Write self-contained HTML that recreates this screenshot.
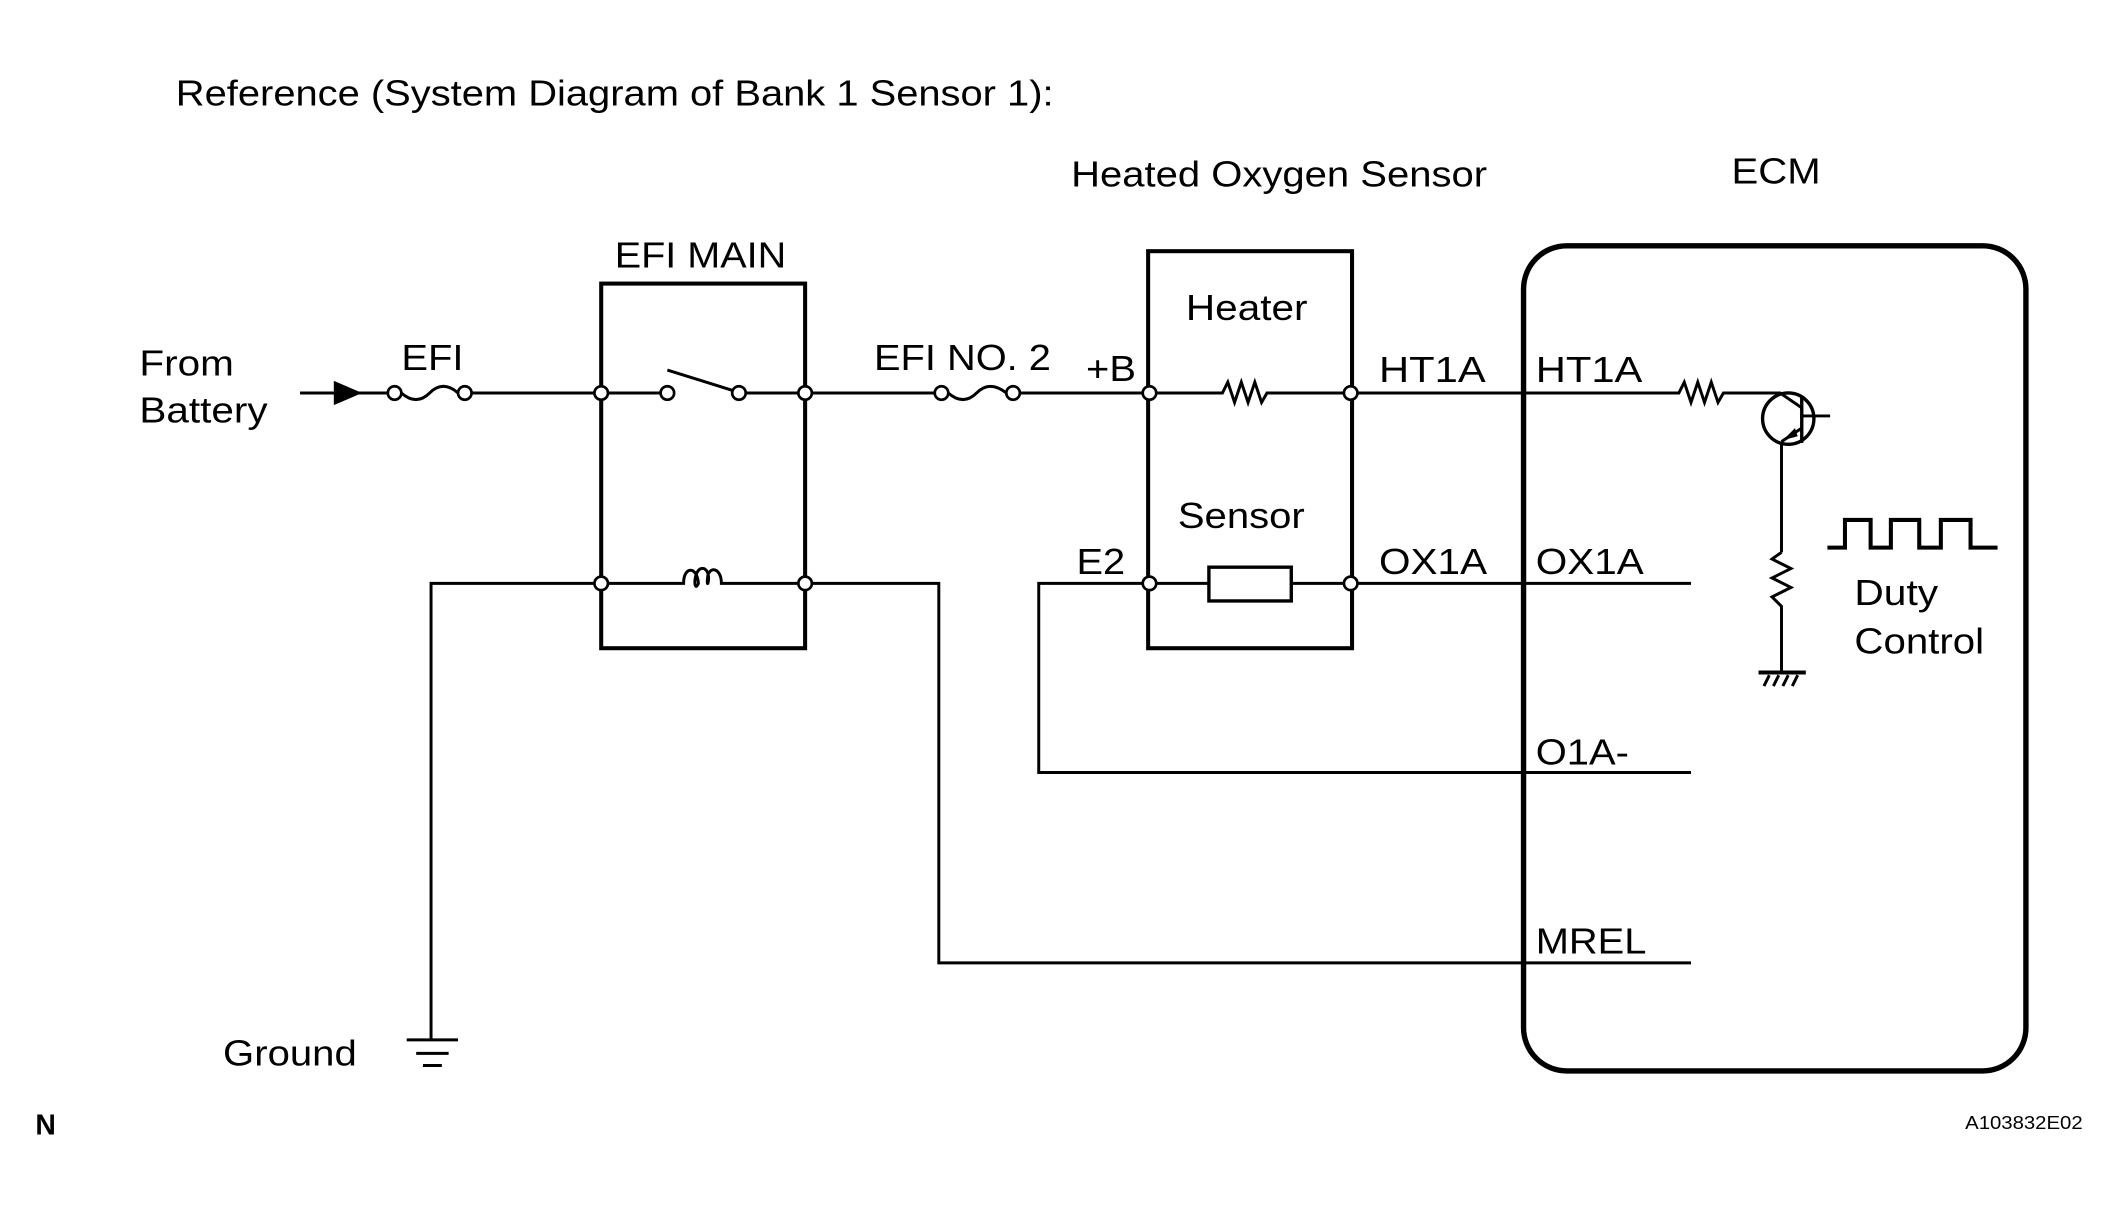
<!DOCTYPE html>
<html><head><meta charset="utf-8"><style>
html,body{margin:0;padding:0;background:#fff;}
svg{display:block;}
text{font-family:"Liberation Sans",Arial,sans-serif;font-size:27px;fill:#000;}
</style></head><body>
<svg width="2118" height="1210" viewBox="0 0 1568 896" xmlns="http://www.w3.org/2000/svg">
<g fill="none" stroke="#000" stroke-width="2.2">
<line x1="222" y1="291" x2="287" y2="291"/>
<path d="M297,291 C305,298 312,297 318,291 C324,285 331,284 339,291"/>
<line x1="349" y1="291" x2="440" y2="291"/>
<line x1="450" y1="291" x2="489" y2="291"/>
<line x1="494" y1="274" x2="542" y2="289"/>
<line x1="552" y1="291" x2="591" y2="291"/>
<line x1="601" y1="291" x2="692" y2="291"/>
<path d="M702,291 C710,298 717,297 723,291 C729,285 736,284 745,291"/>
<line x1="755" y1="291" x2="846" y2="291"/>
<path d="M856,291 L905,291 L909,283 L914,298 L919,283 L924,298 L929,283 L934,298 L938,291 L995,291"/>
<path d="M1005,291 L1243,291 L1247,283 L1252,298 L1257,283 L1262,298 L1267,283 L1272,298 L1276,291 L1318,291 L1334,302"/>
<circle cx="1324" cy="310" r="19" stroke-width="2.5"/>
<line x1="1334" y1="294" x2="1334" y2="328" stroke-width="2.5"/>
<line x1="1334" y1="308" x2="1355" y2="308"/>
<line x1="1334" y1="317" x2="1319" y2="327"/>
<line x1="1319" y1="327" x2="1319" y2="409"/>
<path d="M1319,409 L1312,414 L1326,421 L1312,428 L1326,435 L1312,442 L1319,449 L1319,498"/>
<line x1="1302" y1="498" x2="1337" y2="498" stroke-width="3"/>
<line x1="1306" y1="508" x2="1310" y2="500"/>
<line x1="1313" y1="508" x2="1317" y2="500"/>
<line x1="1320" y1="508" x2="1324" y2="500"/>
<line x1="1327" y1="508" x2="1331" y2="500"/>
<path d="M1353,405.5 L1366,405.5 L1366,385 L1385,385 L1385,405.5 L1400,405.5 L1400,385 L1421,385 L1421,405.5 L1437,405.5 L1437,385 L1459,385 L1459,405.5 L1479,405.5" stroke-width="3"/>
<polyline points="319,770 319,432 440,432"/>
<path d="M450,432 L506,432 C506,419 516,419 517,432 C513,441 513,419 521,421 C528,424 522,441 524,426 C526,419 534,421 534,432 L591,432"/>
<polyline points="601,432 695,432 695,713 1252,713"/>
<polyline points="846,432 769,432 769,572 1252,572"/>
<line x1="856" y1="432" x2="895" y2="432"/>
<line x1="956" y1="432" x2="995" y2="432"/>
<line x1="1005" y1="432" x2="1252" y2="432"/>
<rect x="895" y="420" width="61" height="25" stroke-width="2.5"/>
<rect x="445" y="210" width="151" height="270" stroke-width="3"/>
<rect x="850" y="186" width="151" height="294" stroke-width="3"/>
<rect x="1128" y="182" width="372" height="611" rx="32" stroke-width="4"/>
<line x1="301" y1="770" x2="339" y2="770"/>
<line x1="308" y1="780" x2="332" y2="780"/>
<line x1="313" y1="789" x2="327" y2="789"/>
</g>
<polygon points="247,282 247,300 268,291" fill="#000"/>
<g fill="#fff" stroke="#000" stroke-width="2">
<circle cx="292" cy="291" r="5"/><circle cx="344" cy="291" r="5"/>
<circle cx="445" cy="291" r="5"/><circle cx="494" cy="291" r="5"/>
<circle cx="547" cy="291" r="5"/><circle cx="596" cy="291" r="5"/>
<circle cx="697" cy="291" r="5"/><circle cx="750" cy="291" r="5"/>
<circle cx="851" cy="291" r="5"/><circle cx="1000" cy="291" r="5"/>
<circle cx="445" cy="432" r="5"/><circle cx="596" cy="432" r="5"/>
<circle cx="851" cy="432" r="5"/><circle cx="1000" cy="432" r="5"/>
</g>
<polygon points="1320,326 1329,317 1331,323" fill="#000"/>
<text x="130" y="78" textLength="650" lengthAdjust="spacingAndGlyphs">Reference (System Diagram of Bank 1 Sensor 1):</text>
<text x="793" y="138" textLength="308" lengthAdjust="spacingAndGlyphs">Heated Oxygen Sensor</text>
<text x="1282" y="136" textLength="66" lengthAdjust="spacingAndGlyphs">ECM</text>
<text x="455" y="198" textLength="127" lengthAdjust="spacingAndGlyphs">EFI MAIN</text>
<text x="103" y="278" textLength="70" lengthAdjust="spacingAndGlyphs">From</text>
<text x="103" y="313" textLength="95" lengthAdjust="spacingAndGlyphs">Battery</text>
<text x="297" y="274" textLength="46" lengthAdjust="spacingAndGlyphs">EFI</text>
<text x="647" y="274" textLength="131" lengthAdjust="spacingAndGlyphs">EFI NO. 2</text>
<text x="804" y="282" textLength="37" lengthAdjust="spacingAndGlyphs">+B</text>
<text x="878" y="237" textLength="90" lengthAdjust="spacingAndGlyphs">Heater</text>
<text x="872" y="391" textLength="94" lengthAdjust="spacingAndGlyphs">Sensor</text>
<text x="797" y="425" textLength="36" lengthAdjust="spacingAndGlyphs">E2</text>
<text x="1021" y="283" textLength="79" lengthAdjust="spacingAndGlyphs">HT1A</text>
<text x="1021" y="425" textLength="80" lengthAdjust="spacingAndGlyphs">OX1A</text>
<text x="1137" y="283" textLength="79" lengthAdjust="spacingAndGlyphs">HT1A</text>
<text x="1137" y="425" textLength="80" lengthAdjust="spacingAndGlyphs">OX1A</text>
<text x="1137" y="566" textLength="69" lengthAdjust="spacingAndGlyphs">O1A-</text>
<text x="1137" y="706" textLength="82" lengthAdjust="spacingAndGlyphs">MREL</text>
<text x="1373" y="448" textLength="62" lengthAdjust="spacingAndGlyphs">Duty</text>
<text x="1373" y="484" textLength="96" lengthAdjust="spacingAndGlyphs">Control</text>
<text x="165" y="789" textLength="99" lengthAdjust="spacingAndGlyphs">Ground</text>
<text x="26" y="840" style="font-size:21px;font-weight:bold">N</text>
<text x="1455" y="836" style="font-size:14px" textLength="87" lengthAdjust="spacingAndGlyphs">A103832E02</text>
</svg>
</body></html>
